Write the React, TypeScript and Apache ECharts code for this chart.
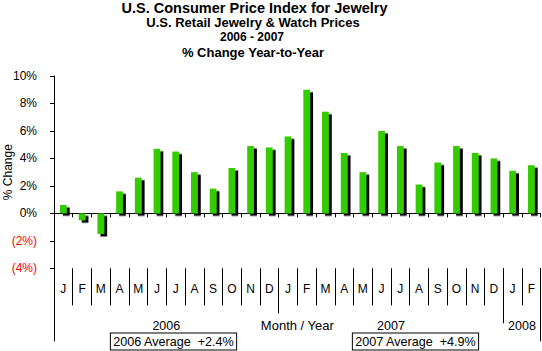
import React, { useEffect, useRef } from 'react';
import * as echarts from 'echarts';

const categories = [
  'Jan 2006', 'Feb 2006', 'Mar 2006', 'Apr 2006', 'May 2006', 'Jun 2006',
  'Jul 2006', 'Aug 2006', 'Sep 2006', 'Oct 2006', 'Nov 2006', 'Dec 2006',
  'Jan 2007', 'Feb 2007', 'Mar 2007', 'Apr 2007', 'May 2007', 'Jun 2007',
  'Jul 2007', 'Aug 2007', 'Sep 2007', 'Oct 2007', 'Nov 2007', 'Dec 2007',
  'Jan 2008', 'Feb 2008',
];
const cpiChange = [
  0.6, -0.5, -1.5, 1.6, 2.6, 4.7, 4.5, 3.0, 1.8, 3.3, 4.9, 4.8,
  5.6, 9.0, 7.4, 4.4, 3.0, 6.0, 4.9, 2.1, 3.7, 4.9, 4.4, 4.0,
  3.1, 3.5,
];
const years = ['2006', '2007', '2008'];
const monthsPerYear = [12, 12, 2];
const averageYears = ['2006', '2007'];
const yearAverages = [2.4, 4.9];
const yMin = -4;
const yMax = 10;
const yStep = 2;
const titleLines = [
  'U.S. Consumer Price Index for Jewelry',
  'U.S. Retail Jewelry & Watch Prices',
  '2006 - 2007',
  '% Change Year-to-Year',
];

const FONT = '"Liberation Sans", Arial, sans-serif';

export default function App() {
  const ref = useRef<HTMLDivElement>(null);

  useEffect(() => {
    if (!ref.current) return;
    const chart = echarts.init(ref.current, undefined, { renderer: 'svg' });

    const yearStarts: number[] = [];
    let acc = 0;
    monthsPerYear.forEach((n) => { yearStarts.push(acc); acc += n; });
    const yearCenters = monthsPerYear.map((n, i) => yearStarts[i] + n / 2);

    const baseCat = (extra: any) => ({
      type: 'category',
      data: categories,
      position: 'bottom',
      boundaryGap: true,
      axisLine: { show: false, onZero: false },
      axisLabel: { show: false },
      splitLine: { show: false },
      ...extra,
    });

    const option: any = {
      animation: false,
      textStyle: { fontFamily: FONT },
      grid: {
        left: 54,
        right: 1.3,
        top: 76,
        bottom: 82.7,
        containLabel: false,
        outerBoundsMode: 'none',
      },
      xAxis: [
        baseCat({
          axisLine: { show: true, onZero: true, lineStyle: { color: '#000', width: 1 } },
          axisTick: { show: true, length: 4, interval: 0, lineStyle: { color: '#000' } },
        }),
        baseCat({
          axisTick: { show: true, length: 37, interval: 0, lineStyle: { color: '#000' } },
          axisLabel: {
            show: true,
            interval: 0,
            margin: 15,
            fontSize: 12,
            color: '#000',
            fontFamily: FONT,
            formatter: (v: string) => v.charAt(0),
          },
        }),
        baseCat({
          axisTick: { show: true, length: 73, interval: (i: number) => i === 0, lineStyle: { color: '#000' } },
        }),
        baseCat({
          axisTick: { show: true, length: 45, interval: (i: number) => i === 0 || i === yearStarts[1], lineStyle: { color: '#000' } },
        }),
        baseCat({
          axisTick: { show: true, length: 55, interval: (i: number) => i === 0 || i === yearStarts[2], lineStyle: { color: '#000' } },
        }),
        {
          type: 'value',
          position: 'bottom',
          min: 0,
          max: categories.length,
          interval: 1,
          axisLine: { show: false, onZero: false },
          axisTick: { show: false },
          splitLine: { show: false },
          axisLabel: {
            show: true,
            margin: 51,
            fontSize: 12.5,
            color: '#000',
            fontFamily: FONT,
            formatter: (v: number) => {
              const k = yearCenters.findIndex((c) => Math.abs(c - v) < 1e-6);
              return k >= 0 ? years[k] : '';
            },
          },
          name: 'Month / Year',
          nameLocation: 'middle',
          nameGap: 51,
          nameMoveOverlap: false,
          nameTextStyle: { fontSize: 13, color: '#000', fontFamily: FONT },
        },
      ],
      yAxis: {
        type: 'value',
        min: yMin,
        max: yMax,
        interval: yStep,
        axisLine: { show: true, lineStyle: { color: '#000', width: 1 } },
        axisTick: { show: true, length: 4, lineStyle: { color: '#000' } },
        splitLine: { show: false },
        axisLabel: {
          margin: 17,
          fontSize: 12,
          fontFamily: FONT,
          color: (v: any) => (Number(v) < 0 ? '#FF0000' : '#000'),
          formatter: (v: number) => (v < 0 ? `(${-v}%)` : `${v}%`),
        },
        name: '% Change',
        nameLocation: 'middle',
        nameGap: 40.5,
        nameMoveOverlap: false,
        nameTextStyle: { fontSize: 12, color: '#000', fontFamily: FONT },
      },
      series: [
        {
          type: 'bar',
          xAxisIndex: 0,
          yAxisIndex: 0,
          data: cpiChange,
          barWidth: '36%',
          itemStyle: {
            color: '#33CC00',
            shadowColor: '#000',
            shadowOffsetX: 3,
            shadowOffsetY: 2.5,
            shadowBlur: 0,
          },
        },
      ],
      graphic: [
        { type: 'text', x: 254.5, y: 8, style: { text: titleLines[0], font: `bold 14.5px ${FONT}`, fill: '#000', align: 'center', verticalAlign: 'middle' } },
        { type: 'text', x: 253, y: 22, style: { text: titleLines[1], font: `bold 13px ${FONT}`, fill: '#000', align: 'center', verticalAlign: 'middle' } },
        { type: 'text', x: 252, y: 36.8, style: { text: titleLines[2], font: `bold 12px ${FONT}`, fill: '#000', align: 'center', verticalAlign: 'middle' } },
        { type: 'text', x: 253, y: 52.2, style: { text: titleLines[3], font: `bold 13px ${FONT}`, fill: '#000', align: 'center', verticalAlign: 'middle' } },
        ...averageYears.map((yr, i) => ({
          type: 'text',
          x: i === 0 ? 173.5 : 415.5,
          y: 341.5,
          style: {
            text: `${yr} Average  +${yearAverages[i].toFixed(1)}%`,
            font: `12.6px ${FONT}`,
            fill: '#000',
            align: 'center',
            verticalAlign: 'middle',
            borderColor: '#000',
            borderWidth: 1,
            backgroundColor: '#fff',
            padding: [2, 2, 1, 2],
          },
        })),
      ],
    };

    chart.setOption(option);
    return () => chart.dispose();
  }, []);

  return (
    <div
      ref={ref}
      style={{ position: 'absolute', left: 0, top: 0, width: 542, height: 351, background: '#fff' }}
    />
  );
}
